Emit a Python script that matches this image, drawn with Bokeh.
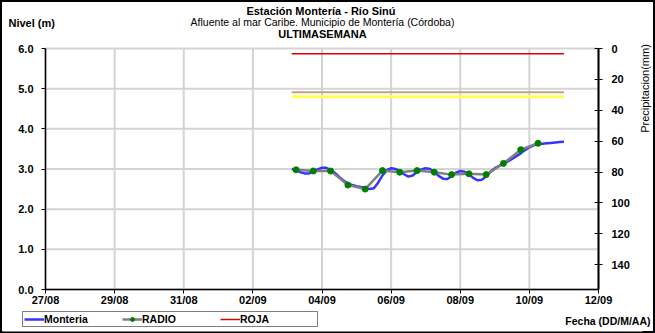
import math
import pandas as pd
from bokeh.plotting import figure
from bokeh.models import (Range1d, LinearAxis, FixedTicker, DatetimeTickFormatter,
                          Legend, LegendItem, Label, Title, CustomJSTickFormatter)
from bokeh.embed import file_html
from bokeh.resources import INLINE

# ---------------- data ----------------
x_start = "2011-08-27"
x_end = "2011-09-12"
date_ticks = ["2011-08-27", "2011-08-29", "2011-08-31", "2011-09-02", "2011-09-04",
              "2011-09-06", "2011-09-08", "2011-09-10", "2011-09-12"]
nivel_ticks = [0, 1, 2, 3, 4, 5, 6]
nivel_min, nivel_max = 0, 6
prec_ticks = [0, 20, 40, 60, 80, 100, 120, 140]
prec_max = 156

# Monteria (3-hourly readings)
monteria_start = "2011-09-03 03:00"
monteria_step = "3h"
monteria = [3.00, 2.97, 2.92, 2.89, 2.89, 2.93, 2.99, 3.03,
            3.03, 2.98, 2.90, 2.80, 2.71, 2.64, 2.60, 2.57,
            2.55, 2.53, 2.50, 2.52, 2.66, 2.84, 2.97, 3.02,
            3.00, 2.95, 2.87, 2.81, 2.84, 2.93, 2.99, 3.02,
            3.00, 2.93, 2.83, 2.76, 2.75, 2.82, 2.91, 2.95,
            2.93, 2.87, 2.78, 2.72, 2.73, 2.82, 2.93, 3.02,
            3.08, 3.13, 3.19, 3.25, 3.32, 3.39, 3.47, 3.54,
            3.59, 3.62, 3.63, 3.64, 3.65, 3.66, 3.67, 3.68]

# RADIO (12-hourly readings)
radio_start = "2011-09-03 06:00"
radio_step = "12h"
radio = [2.98, 2.95, 2.95, 2.60, 2.50, 2.96, 2.92, 2.96,
         2.92, 2.86, 2.88, 2.86, 3.14, 3.48, 3.64]

# alert thresholds
umbral_start = "2011-09-03 03:00"
umbral_end = "2011-09-11 00:00"
roja = 5.87
naranja = 4.91
amarilla = 4.80

# ---------------- layout geometry (canvas px) ----------------
W, H = 655, 333
AL, AR, AT, AB = 45, 598, 48, 289   # where the axes are drawn
FL, FR, FT, FB = 2, 642, 38, 331    # plot frame (larger, so axis labels are not clipped)

t0 = pd.Timestamp(x_start)
t1 = pd.Timestamp(x_end)
t0ms, t1ms = t0.value / 1e6, t1.value / 1e6
ms_per_px = (t1ms - t0ms) / (AR - AL)
x_lo = t0ms - (AL - FL) * ms_per_px
x_hi = t1ms + (FR - AR) * ms_per_px
px_per_unit = (AB - AT) / (nivel_max - nivel_min)
y_lo = nivel_min - (FB - AB) / px_per_unit
y_hi = nivel_max + (AT - FT) / px_per_unit
prec_per_px = prec_max / (AB - AT)
prec_lo = prec_max + (FB - AB) * prec_per_px
prec_hi = -(AT - FT) * prec_per_px

p = figure(width=W, height=H, x_axis_type="datetime",
           x_range=Range1d(x_lo, x_hi), y_range=Range1d(y_lo, y_hi),
           output_backend="svg", toolbar_location=None,
           min_border_left=FL, min_border_right=W - FR,
           min_border_top=FT, min_border_bottom=H - FB,
           background_fill_color="white", border_fill_color=None,
           outline_line_color=None,
           styles={"box-shadow": "inset 0 0 0 2px #000000"})

FONT = "Liberation Sans"
tick_ms = [pd.Timestamp(d).value / 1e6 for d in date_ticks]

# x axis at level 0
p.xaxis.fixed_location = nivel_min
p.xaxis.bounds = (t0ms, t1ms)
p.xaxis.ticker = FixedTicker(ticks=tick_ms)
p.xaxis.formatter = DatetimeTickFormatter(days="%d/%m", months="%d/%m", hours="%d/%m",
                                          years="%d/%m")
p.xaxis.major_label_text_font = FONT
p.xaxis.major_label_text_font_style = "bold"
p.xaxis.major_label_text_font_size = "11px"
p.xaxis.major_label_text_color = "black"
p.xaxis.major_tick_in = 0
p.xaxis.major_tick_out = 4
p.xaxis.minor_tick_out = 0
p.xaxis.minor_tick_in = 0
p.xaxis.major_label_standoff = 0
p.xaxis.axis_line_color = "black"
p.xaxis.axis_line_width = 1.5
p.xaxis.major_tick_line_color = "black"

# left axis at the first date
p.yaxis.fixed_location = t0ms
p.yaxis.bounds = (nivel_min, nivel_max)
p.yaxis.ticker = FixedTicker(ticks=nivel_ticks)
p.yaxis.formatter = CustomJSTickFormatter(code="return tick.toFixed(1);")
p.yaxis.major_label_text_font = FONT
p.yaxis.major_label_text_font_style = "bold"
p.yaxis.major_label_text_font_size = "11px"
p.yaxis.major_label_text_color = "black"
p.yaxis.major_tick_in = 0
p.yaxis.major_tick_out = 4
p.yaxis.minor_tick_out = 0
p.yaxis.minor_tick_in = 0
p.yaxis.major_label_standoff = 8
p.yaxis.axis_line_color = "black"
p.yaxis.axis_line_width = 1.5

# right axis (precipitation, inverted) at the last date
p.extra_y_ranges = {"prec": Range1d(prec_lo, prec_hi)}
ax_r = LinearAxis(y_range_name="prec", ticker=FixedTicker(ticks=prec_ticks),
                  bounds=(0, prec_max), fixed_location=t1ms)
ax_r.major_label_text_font = FONT
ax_r.major_label_text_font_style = "bold"
ax_r.major_label_text_font_size = "11px"
ax_r.major_label_text_color = "black"
ax_r.major_tick_in = 4
ax_r.major_tick_out = 4
ax_r.minor_tick_in = 0
ax_r.minor_tick_out = 0
ax_r.major_label_standoff = 9
ax_r.axis_line_color = "black"
ax_r.axis_line_width = 2
p.add_layout(ax_r, "right")

# grid lines, bounded to the chart area
p.xgrid.visible = False
p.ygrid.visible = False
grid_x = [pd.Timestamp(d) for d in date_ticks]
p.segment(x0=grid_x, y0=[nivel_min] * len(grid_x), x1=grid_x, y1=[nivel_max] * len(grid_x),
          line_color="#d4d4d4", line_width=2, level="underlay")
p.segment(x0=[t0] * len(nivel_ticks), y0=nivel_ticks, x1=[t1] * len(nivel_ticks),
          y1=nivel_ticks, line_color="#d4d4d4", line_width=2, level="underlay")

# ---------------- series ----------------
mx = pd.date_range(monteria_start, periods=len(monteria), freq=monteria_step)
rx = pd.date_range(radio_start, periods=len(radio), freq=radio_step)
ux = [pd.Timestamp(umbral_start), pd.Timestamp(umbral_end)]

r_nar = p.line(ux, [naranja, naranja], line_color="#c9a083", line_width=2)
r_ama = p.line(ux, [amarilla, amarilla], line_color="#ffff55", line_width=3)
r_roja = p.line(ux, [roja, roja], line_color="#e00000", line_width=1.5)

r_mont = p.line(mx, monteria, line_color="#3535ff", line_width=2.5)
r_rad_l = p.line(rx, radio, line_color="#808080", line_width=2.5)
r_rad_p = p.scatter(rx, radio, size=6, fill_color="#008000", line_color="#008000")

legend = Legend(items=[LegendItem(label="Monteria", renderers=[r_mont]),
                       LegendItem(label="RADIO", renderers=[r_rad_l, r_rad_p]),
                       LegendItem(label="ROJA", renderers=[r_roja])],
                orientation="horizontal", location=(20, 4), margin=0,
                padding=1, spacing=2, glyph_width=20, glyph_height=10,
                label_height=10, label_width=76, label_standoff=0,
                label_text_font=FONT, label_text_font_style="bold",
                label_text_font_size="10.5px", label_text_color="black",
                border_line_color="black", border_line_width=1,
                background_fill_color="white", background_fill_alpha=1)
p.add_layout(legend, "center")


# ---------------- texts (zero-height titles placed by standoff) ----------------
def top_title(text, top_y, size, style="bold", align="center", offset=0):
    t = Title(text=text, align=align, vertical_align="top", offset=offset,
              standoff=int(2 * (top_y - FT)), text_font=FONT, text_font_size=size,
              text_font_style=style, text_color="black")
    p.add_layout(t, "above")


top_title("Estación Montería  - Río Sinú", 4, "11px")
top_title("Afluente al mar Caribe. Municipio de Montería (Córdoba)", 15, "10.5px", "normal")
top_title("ULTIMASEMANA", 27, "11px")
top_title("Nivel (m)", 16, "11px", align="left", offset=8 - FL)

p.add_layout(Label(x=650, y=320, x_units="canvas", y_units="canvas",
                   text="Fecha (DD/M/AA)", text_font=FONT,
                   text_font_size="10.5px", text_font_style="bold",
                   text_align="right", text_baseline="middle",
                   text_color="black"), "above")

p.add_layout(Label(x=644, y=88, x_units="canvas", y_units="canvas",
                   text="Precipitacion(mm)", angle=math.pi / 2, text_font=FONT,
                   text_font_size="11px", text_align="center",
                   text_baseline="middle", text_color="black"), "right")

open("out.html", "w").write(file_html(p, INLINE))
